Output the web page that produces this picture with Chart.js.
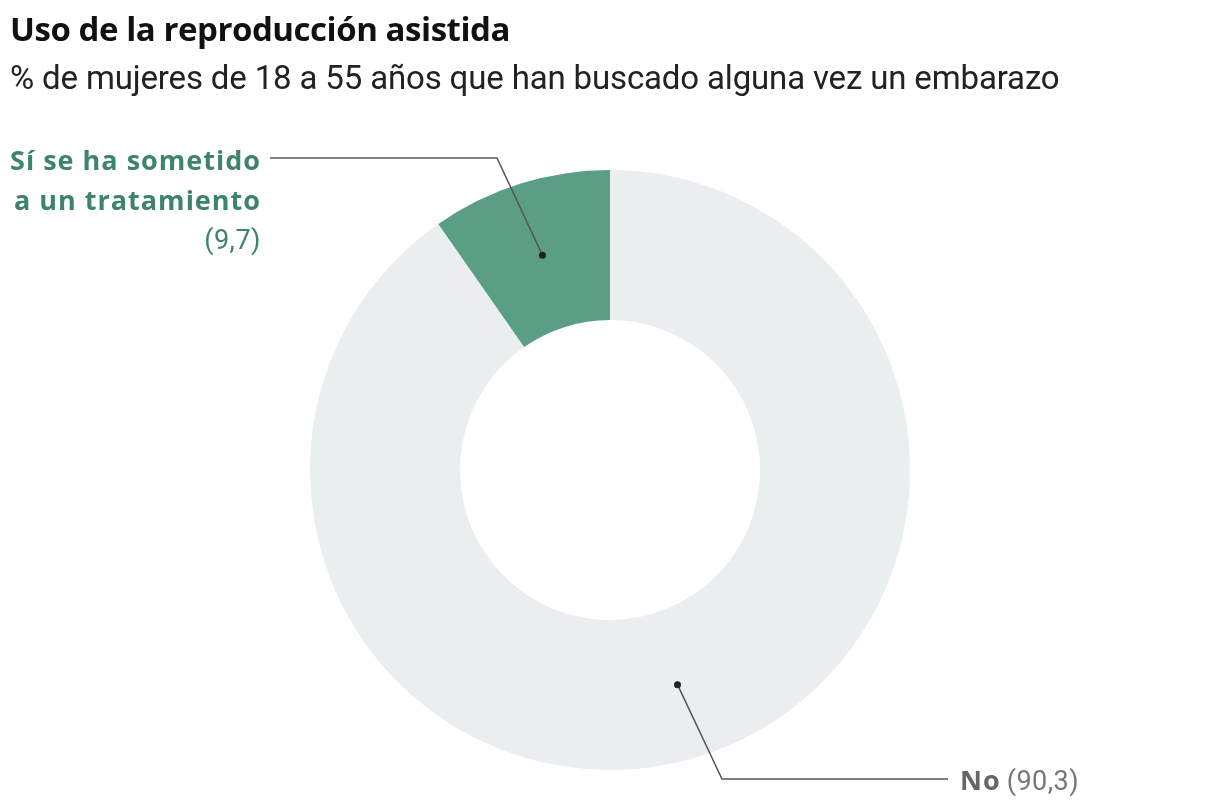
<!DOCTYPE html>
<html>
<head>
<meta charset="utf-8">
<script src="https://cdn.jsdelivr.net/npm/chart.js@4/dist/chart.umd.min.js"></script>
<style>
  html, body { margin: 0; padding: 0; background: #fff; }
  #wrap { position: relative; width: 1220px; height: 810px; overflow: hidden; }
  #titulo { position: absolute; left: 10px; top: 7px; font: 700 33px "Open Sans", sans-serif; color: #111; letter-spacing: -0.45px; line-height: 44px; }
  #subtitulo { position: absolute; left: 10px; top: 56px; font: 400 33px Roboto, sans-serif; color: #222; letter-spacing: -0.15px; line-height: 44px; }
  #grafico { position: absolute; left: 0; top: 0; }
</style>
</head>
<body>
<div id="wrap">
  <canvas id="grafico" width="1220" height="810"></canvas>
  <div id="titulo">Uso de la reproducción asistida</div>
  <div id="subtitulo">% de mujeres de 18 a 55 años que han buscado alguna vez un embarazo</div>
</div>
<script>
// Datos
const categorias = ['No', 'Sí se ha sometido a un tratamiento'];
const valores = [90.3, 9.7];
const etiquetasValor = ['(90,3)', '(9,7)'];
const colores = ['#eaeeee', '#5a9e84'];

// Etiquetas con línea guía (dibujadas a partir del centro de cada sector)
const anotaciones = {
  id: 'anotaciones',
  afterDraw(chart) {
    const ctx = chart.ctx;
    const arcos = chart.getDatasetMeta(0).data;
    ctx.save();
    ctx.strokeStyle = '#555';
    ctx.fillStyle = '#222';
    ctx.lineWidth = 1.5;

    // Sí
    const pSi = arcos[1].tooltipPosition();
    ctx.beginPath();
    ctx.moveTo(pSi.x, pSi.y);
    ctx.lineTo(497, 158);
    ctx.lineTo(270, 158);
    ctx.stroke();
    ctx.beginPath();
    ctx.arc(pSi.x, pSi.y, 3.5, 0, Math.PI * 2);
    ctx.fill();

    ctx.textAlign = 'right';
    ctx.textBaseline = 'alphabetic';
    ctx.fillStyle = '#3e8468';
    ctx.font = '700 27px "Open Sans", sans-serif';
    ctx.letterSpacing = '1px';
    ctx.fillText('Sí se ha sometido', 261, 170);
    ctx.fillText('a un tratamiento', 261, 210);
    ctx.letterSpacing = '0.5px';
    ctx.font = '400 27px Roboto, sans-serif';
    ctx.fillText(etiquetasValor[1], 261, 249);

    // No
    const pNo = arcos[0].tooltipPosition();
    ctx.beginPath();
    ctx.moveTo(pNo.x, pNo.y);
    ctx.lineTo(722, 779);
    ctx.lineTo(948, 779);
    ctx.stroke();
    ctx.fillStyle = '#222';
    ctx.beginPath();
    ctx.arc(pNo.x, pNo.y, 3.5, 0, Math.PI * 2);
    ctx.fill();

    ctx.textAlign = 'left';
    ctx.fillStyle = '#666';
    ctx.font = '700 27px "Open Sans", sans-serif';
    ctx.letterSpacing = '1px';
    ctx.fillText(categorias[0], 960, 790);
    const w = ctx.measureText(categorias[0]).width + 6;
    ctx.fillStyle = '#777';
    ctx.letterSpacing = '0.5px';
    ctx.font = '400 27px Roboto, sans-serif';
    ctx.fillText(etiquetasValor[0], 960 + w, 790);
    ctx.restore();
  }
};

new Chart(document.getElementById('grafico'), {
  type: 'doughnut',
  data: {
    labels: categorias,
    datasets: [{
      data: valores,
      backgroundColor: colores,
      borderWidth: 0
    }]
  },
  options: {
    responsive: false,
    animation: false,
    cutout: '50%',
    layout: { padding: { top: 170, bottom: 40, left: 310, right: 310 } },
    plugins: { legend: { display: false }, tooltip: { enabled: false } }
  },
  plugins: [anotaciones]
});
</script>
</body>
</html>
